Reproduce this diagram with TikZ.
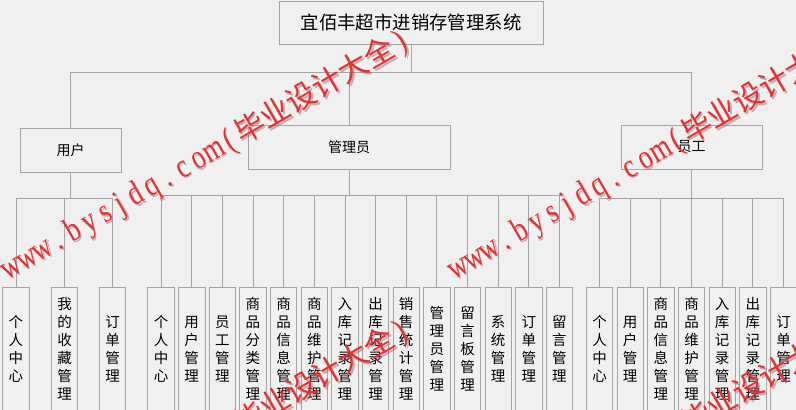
\documentclass[tikz,border=0pt]{standalone}
\usepackage{graphicx}
\usepackage{fontspec}
\setmainfont{Noto Sans CJK SC}
\newfontfamily\wmfont{Liberation Serif}
\newfontfamily\cjk{Noto Sans CJK SC}
\definecolor{bg}{RGB}{240,240,240}
\definecolor{ln}{RGB}{165,165,165}
\definecolor{wm}{RGB}{226,50,50}
\definecolor{wmshadow}{RGB}{150,110,110}
\tikzset{
  box/.style={draw=ln, line width=0.8pt, rectangle, inner sep=0pt, text=black},
  sysbox/.style={box, minimum width=264, minimum height=43, font=\fontsize{18.4}{22}\selectfont},
  rolebox/.style={box, minimum height=44, font=\fontsize{14}{17}\selectfont},
  leafbox/.style={box, minimum width=26.5, minimum height=124, align=center, font=\fontsize{14.5}{18}\selectfont},
  conn/.style={draw=ln, line width=0.8pt},
  wmark/.style={anchor=base west, rotate=30, inner sep=0pt, text=wm, font=\fontsize{30}{30}\selectfont},
  wmshade/.style={wmark, text=wmshadow, opacity=0.5}
}
\newcommand{\wc}[1]{\makebox[18pt][c]{\scalebox{0.78}[1]{#1}}}
\newcommand{\wmtext}{{\wmfont\fontsize{34}{34}\selectfont\wc{w}\wc{w}\wc{w}\wc{.}\wc{b}\wc{y}\wc{s}\wc{j}\wc{d}\wc{q}\wc{.}\wc{c}\wc{o}\wc{m}\wc{(}}{\cjk 毕业设计大全}{\wmfont\fontsize{34}{34}\selectfont\wc{)}}}
\begin{document}
\begin{tikzpicture}[x=1pt,y=-1pt]
\fill[bg] (0,0) rectangle (796,410);
\useasboundingbox (0,0) rectangle (796,410);
\clip (0,0) rectangle (796,410);

% top and roles
\node[sysbox] (sys) at (411,22.5) {宜佰丰超市进销存管理系统};
\node[rolebox, minimum width=101] (user) at (70.5,150) {用户};
\node[rolebox, minimum width=202] (admin) at (349,147) {管理员};
\node[rolebox, minimum width=141] (emp) at (691.5,147) {员工};

\draw[conn] (sys.south) -- ++(0,27.5) coordinate (topbus);
\draw[conn] (topbus) -| (user.north);
\draw[conn] (topbus) -| (admin.north);
\draw[conn] (topbus) -| (emp.north);

% user leaves
\node[leafbox] (u1) at (16,349) {个\\人\\中\\心};
\node[leafbox] (u2) at (64.5,349) {我\\的\\收\\藏\\管\\理};
\node[leafbox] (u3) at (112.5,349) {订\\单\\管\\理};

% admin leaves
\node[leafbox] (a1) at (161,349) {个\\人\\中\\心};
\node[leafbox] (a2) at (191.65,349) {用\\户\\管\\理};
\node[leafbox] (a3) at (222.3,349) {员\\工\\管\\理};
\node[leafbox] (a4) at (252.95,349) {商\\品\\分\\类\\管\\理};
\node[leafbox] (a5) at (283.6,349) {商\\品\\信\\息\\管\\理};
\node[leafbox] (a6) at (314.25,349) {商\\品\\维\\护\\管\\理};
\node[leafbox] (a7) at (344.9,349) {入\\库\\记\\录\\管\\理};
\node[leafbox] (a8) at (375.55,349) {出\\库\\记\\录\\管\\理};
\node[leafbox] (a9) at (406.2,349) {销\\售\\统\\计\\管\\理};
\node[leafbox] (a10) at (436.85,349) {管\\理\\员\\管\\理};
\node[leafbox] (a11) at (467.5,349) {留\\言\\板\\管\\理};
\node[leafbox] (a12) at (498.15,349) {系\\统\\管\\理};
\node[leafbox] (a13) at (528.8,349) {订\\单\\管\\理};
\node[leafbox] (a14) at (559.45,349) {留\\言\\管\\理};

% employee leaves
\node[leafbox] (e1) at (599.5,349) {个\\人\\中\\心};
\node[leafbox] (e2) at (630.17,349) {用\\户\\管\\理};
\node[leafbox] (e3) at (660.83,349) {商\\品\\信\\息\\管\\理};
\node[leafbox] (e4) at (691.5,349) {商\\品\\维\\护\\管\\理};
\node[leafbox] (e5) at (722.17,349) {入\\库\\记\\录\\管\\理};
\node[leafbox] (e6) at (752.83,349) {出\\库\\记\\录\\管\\理};
\node[leafbox] (e7) at (783.5,349) {订\\单\\管\\理};

% buses
\draw[conn] (user.south) -- ++(0,26) coordinate (ubus);
\foreach \nm in {u1,u2,u3} \draw[conn] (ubus) -| (\nm.north);
\draw[conn] (admin.south) -- ++(0,26) coordinate (abus);
\foreach \nm in {a1,a2,a3,a4,a5,a6,a7,a8,a9,a10,a11,a12,a13,a14} \draw[conn] (abus) -| (\nm.north);
\draw[conn] (emp.south) -- ++(0,29) coordinate (ebus);
\foreach \nm in {e1,e2,e3,e4,e5,e6,e7} \draw[conn] (ebus) -| (\nm.north);

% watermarks
\node[wmshade] (wm1s) at (9.3,281.3) {\wmtext};
\node[wmark] (wm1) at (8,280) {\wmtext};
\node[wmshade] (wm2s) at (456.3,281.3) {\wmtext};
\node[wmark] (wm2) at (455,280) {\wmtext};
\node[wmshade] (wm3s) at (9.3,571.3) {\wmtext};
\node[wmark] (wm3) at (8,570) {\wmtext};
\node[wmshade] (wm4s) at (456.3,571.3) {\wmtext};
\node[wmark] (wm4) at (455,570) {\wmtext};
\end{tikzpicture}
\end{document}
